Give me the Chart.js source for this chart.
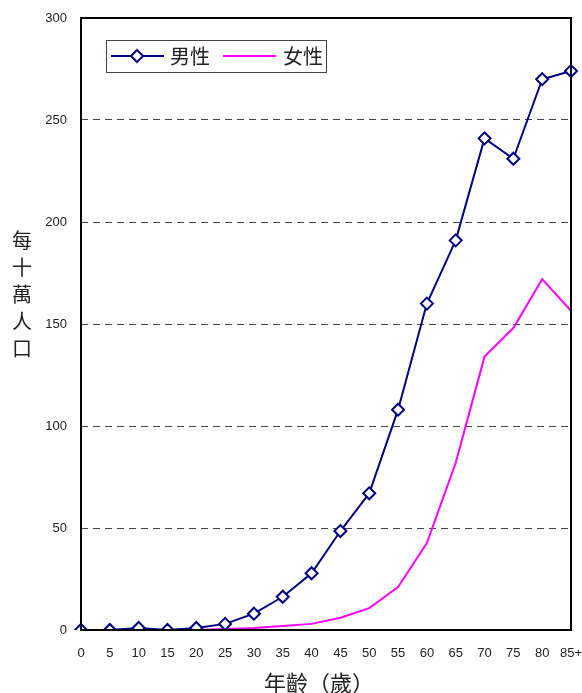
<!DOCTYPE html>
<html>
<head>
<meta charset="utf-8">
<script src="https://cdn.jsdelivr.net/npm/chart.js@4"></script>
<style>
  html, body { margin: 0; padding: 0; background: #fff; }
  #wrap { width: 582px; height: 693px; position: relative; }
</style>
</head>
<body>
<div id="wrap"><canvas id="chart"></canvas></div>
<script>
// categories and series
const ageGroups = ["0", "5", "10", "15", "20", "25", "30", "35", "40", "45", "50", "55", "60", "65", "70", "75", "80", "85+"];
const maleRates = [0, 0, 1, 0, 1, 3, 8, 16.3, 27.8, 48.5, 67, 108, 160, 191, 241, 231, 270, 274];
const femaleRates = [0, 0, 0, 0, 0, 0.5, 1, 2, 3, 6, 10.7, 21, 42.6, 82, 134, 148, 172, 156.5];
const yTitle = ["每", "十", "萬", "人", "口"];
const xTitle = "年齡（歲）";

const cjkFont = '"Noto Sans CJK TC", "Noto Sans CJK SC", sans-serif';
const numFont = '"Liberation Sans", Arial, sans-serif';

// draws the frame, titles and the boxed legend inside the plot
const extras = {
  id: "extras",
  afterDraw(chart) {
    const ctx = chart.ctx;
    const a = chart.chartArea;
    ctx.save();

    // plot frame
    ctx.strokeStyle = "#000";
    ctx.lineWidth = 2;
    ctx.strokeRect(a.left, a.top, a.right - a.left, a.bottom - a.top);

    // y title, upright characters stacked
    ctx.fillStyle = "#222";
    ctx.font = "20px " + cjkFont;
    ctx.textAlign = "center";
    ctx.textBaseline = "middle";
    yTitle.forEach((ch, i) => ctx.fillText(ch, 22, 240 + i * 27));

    // x title
    ctx.font = "22px " + cjkFont;
    ctx.fillText(xTitle, 319, 683);

    // legend
    const ds = chart.data.datasets;
    ctx.fillStyle = "#fff";
    ctx.fillRect(106, 40, 220, 32);
    ctx.strokeStyle = "#444";
    ctx.lineWidth = 1;
    ctx.strokeRect(106.5, 40.5, 220, 32);

    const items = [
      { x: 111, textX: 190 },
      { x: 223, textX: 303 }
    ];
    items.forEach((it, i) => {
      const d = ds[i];
      const y = 56;
      ctx.strokeStyle = d.borderColor;
      ctx.lineWidth = 2;
      ctx.beginPath();
      ctx.moveTo(it.x, y);
      ctx.lineTo(it.x + 53, y);
      ctx.stroke();
      if (d.pointRadius > 0) {
        const cx = it.x + 26;
        ctx.fillStyle = "#fff";
        ctx.beginPath();
        ctx.moveTo(cx, y - 6);
        ctx.lineTo(cx + 6, y);
        ctx.lineTo(cx, y + 6);
        ctx.lineTo(cx - 6, y);
        ctx.closePath();
        ctx.fill();
        ctx.stroke();
      }
      ctx.fillStyle = "#222";
      ctx.font = "20px " + cjkFont;
      ctx.fillText(d.label, it.textX, y);
    });

    ctx.restore();
  }
};

const data = {
  labels: ageGroups,
  datasets: [
    {
      label: "男性",
      data: maleRates,
      borderColor: "#000080",
      backgroundColor: "#ffffff",
      borderWidth: 2,
      pointStyle: "rectRot",
      pointRadius: 6,
      pointBorderWidth: 2,
      pointBorderColor: "#000080",
      pointBackgroundColor: "#ffffff",
      tension: 0,
    },
    {
      label: "女性",
      data: femaleRates,
      borderColor: "#ff00ff",
      backgroundColor: "#ff00ff",
      borderWidth: 2,
      pointRadius: 0,
      tension: 0,
    },
  ],
};

const config = {
  type: "line",
  data,
  options: {
    responsive: true,
    maintainAspectRatio: false,
    animation: false,
    layout: { padding: { left: 0, right: 11, top: 18, bottom: 0 } },
    scales: {
      x: {
        offset: false,
        grid: { display: false, drawTicks: false },
        border: { display: false },
        ticks: {
          color: "#222",
          padding: 16,
          maxRotation: 0,
          autoSkip: false,
          font: { family: numFont, size: 13 },
        },
        afterFit: (s) => { s.height = 63; s.paddingLeft = 0; s.paddingRight = 0; },
      },
      y: {
        min: 0,
        max: 300,
        grid: {
          drawTicks: false,
          color: (c) => (c.tick.value === 0 || c.tick.value === 300 ? "rgba(0,0,0,0)" : "#444"),
        },
        border: { display: false, dash: [7, 5] },
        ticks: {
          stepSize: 50,
          color: "#222",
          padding: 14,
          font: { family: numFont, size: 13 },
        },
        afterFit: (s) => { s.width = 81; s.paddingTop = 0; s.paddingBottom = 0; },
      },
    },
    plugins: {
      legend: { display: false },
      tooltip: { enabled: false },
    },
  },
  plugins: [extras],
};

new Chart(document.getElementById("chart"), config);
</script>
</body>
</html>
